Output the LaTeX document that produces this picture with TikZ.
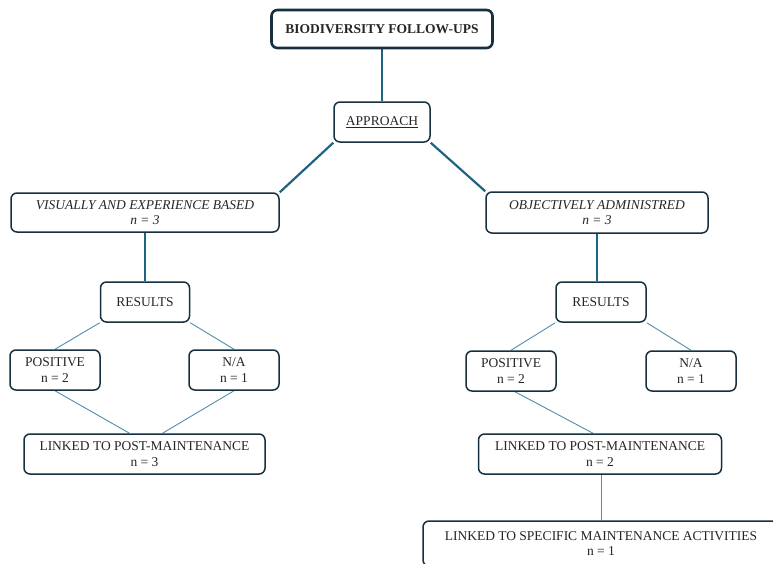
\documentclass[tikz,border=0pt]{standalone}
\usepackage{fontspec}
\setmainfont{Liberation Serif}
\usetikzlibrary{backgrounds}
\definecolor{boxc}{HTML}{16303F}
\definecolor{thickc}{HTML}{1F6383}
\definecolor{thinc}{HTML}{4F8DAD}
\begin{document}
\begin{tikzpicture}[x=1pt,y=-1pt,
  box/.style={draw=boxc, line width=1.5pt, rounded corners=6pt, fill=white,
    align=center, inner sep=0pt, font=\fontsize{13.5}{15.5}\selectfont,
    text=black!85},
  topbox/.style={box, line width=2.6pt, font=\fontsize{13.5}{15.5}\selectfont\bfseries},
  thick link/.style={draw=thickc, line width=2.2pt},
  thin link/.style={draw=thinc, line width=0.9pt}]
\clip (0,0) rectangle (773,563);

% boxes
\node[topbox, minimum width=221pt, minimum height=38pt] (top) at (382,29) {BIODIVERSITY FOLLOW-UPS};
\node[box, minimum width=96pt, minimum height=40pt] (appr) at (382,122) {\underline{APPROACH}};
\node[box, minimum width=268pt, minimum height=39pt] (vis) at (145,212.5) {\itshape VISUALLY AND EXPERIENCE BASED\\\itshape n = 3};
\node[box, minimum width=222pt, minimum height=41pt] (obj) at (597,212.5) {\itshape OBJECTIVELY ADMINISTRED\\\itshape n = 3};
\node[box, minimum width=89pt, minimum height=40pt] (resL) at (145,302) {RESULTS};
\node[box, minimum width=90pt, minimum height=40pt] (resR) at (601,302) {RESULTS};
\node[box, minimum width=90pt, minimum height=40pt] (posL) at (55,370) {POSITIVE\\n = 2};
\node[box, minimum width=90pt, minimum height=40pt] (naL) at (234,370) {N/A\\n = 1};
\node[box, minimum width=90pt, minimum height=40pt] (posR) at (511,371) {POSITIVE\\n = 2};
\node[box, minimum width=90pt, minimum height=40pt] (naR) at (691,371) {N/A\\n = 1};
\node[box, minimum width=241pt, minimum height=40pt] (linkL) at (144.5,454) {LINKED TO POST-MAINTENANCE\\n = 3};
\node[box, minimum width=243pt, minimum height=40pt] (linkR) at (600,454) {LINKED TO POST-MAINTENANCE\\n = 2};
\node[box, minimum width=356pt, minimum height=45pt] (spec) at (601,543.5) {LINKED TO SPECIFIC MAINTENANCE ACTIVITIES\\n = 1};

% connectors, drawn behind the boxes
\begin{scope}[on background layer]
\draw[thick link] (top.south) -- (appr.north);
\draw[thick link] (appr.south west) -- (vis.north east);
\draw[thick link] (appr.south east) -- (obj.north west);
\draw[thick link] (vis.south) -- (resL.north);
\draw[thick link] (obj.south) -- (obj.south |- resR.north);
\draw[thin link] (resL.south west) -- (posL.north);
\draw[thin link] (resL.south east) -- (naL.north);
\draw[thin link] (posL.south) -- ([xshift=-15pt]linkL.north);
\draw[thin link] (naL.south) -- ([xshift=18pt]linkL.north);
\draw[thin link] (resR.south west) -- (posR.north);
\draw[thin link] (resR.south east) -- (naR.north);
\draw[thin link] ([xshift=4pt]posR.south) -- ([xshift=-7pt]linkR.north);
\draw[thin link] (spec.north |- linkR.south) -- (spec.north);
\end{scope}
\end{tikzpicture}
\end{document}
